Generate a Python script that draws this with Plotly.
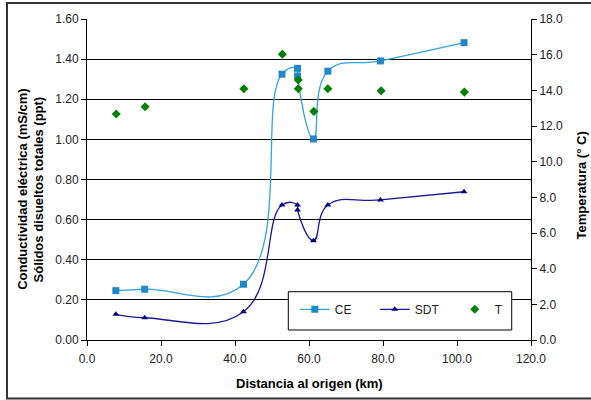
import plotly.graph_objects as go

dist = [7.8, 15.6, 42.3, 52.7, 56.9, 56.9, 61.2, 65.1, 79.3, 101.9]
ce = [0.246, 0.253, 0.278, 1.325, 1.354, 1.316, 1.002, 1.340, 1.391, 1.482]
sdt = [0.128, 0.111, 0.141, 0.673, 0.673, 0.648, 0.495, 0.673, 0.698, 0.739]
dist_t = [7.9, 15.7, 42.4, 52.8, 57.1, 57.1, 61.3, 65.1, 79.5, 102.0]
temp = [12.67, 13.08, 14.09, 16.02, 14.58, 14.09, 12.82, 14.09, 13.98, 13.90]

x_ticks = [0, 20, 40, 60, 80, 100, 120]

FONT = "Liberation Sans, Arial, sans-serif"

fig = go.Figure()
fig.add_trace(go.Scatter(
    x=dist, y=ce, name="CE", mode="lines+markers",
    line=dict(color="#33A3DC", width=1.3, shape="spline", smoothing=1.3),
    marker=dict(symbol="square", size=7, color="#1E88C8"),
))
fig.add_trace(go.Scatter(
    x=dist, y=sdt, name="SDT", mode="lines+markers",
    line=dict(color="#1A1A99", width=1.3, shape="spline", smoothing=1.3),
    marker=dict(symbol="triangle-up", size=6, color="#000080"),
))
fig.add_trace(go.Scatter(
    x=dist_t, y=temp, name="T", mode="markers", yaxis="y2",
    marker=dict(symbol="diamond", size=7, color="#008000"),
))

axis_common = dict(
    showline=True, linecolor="#000000", linewidth=1,
    ticks="outside", ticklen=5, tickcolor="#000000",
    tickfont=dict(family=FONT, size=12, color="#222222"),
    zeroline=False,
)

fig.update_layout(
    width=591, height=400,
    margin=dict(l=87, r=60, t=19, b=60),
    paper_bgcolor="white", plot_bgcolor="white",
    font=dict(family=FONT, size=12, color="#000000"),
    xaxis=dict(range=[0, 120], tickvals=x_ticks, tickformat=".1f",
               showgrid=False, ticklabelstandoff=3, **axis_common),
    yaxis=dict(range=[0, 1.6], dtick=0.2, tickformat=".2f",
               showgrid=True, gridcolor="#000000", gridwidth=1, **axis_common),
    yaxis2=dict(range=[0, 18], dtick=2, tickformat=".1f", overlaying="y",
                side="right", showgrid=False, **axis_common),
    legend=dict(orientation="h", x=0.468, y=0.0956, xanchor="left", yanchor="middle",
                bgcolor="rgba(0,0,0,0)", borderwidth=0,
                font=dict(family=FONT, size=12, color="#222222"),
                entrywidth=35, itemwidth=30),
    showlegend=True,
    annotations=[
        dict(text="<b>Distancia al origen (km)</b>", xref="paper", yref="paper",
             x=0.5, y=-0.135, xanchor="center", yanchor="middle", showarrow=False,
             font=dict(family=FONT, size=13)),
        dict(text="<b>Conductividad eléctrica (mS/cm)</b>", xref="paper", yref="paper",
             x=-0.147, y=0.47, textangle=-90, xanchor="center", yanchor="middle",
             showarrow=False, font=dict(family=FONT, size=13)),
        dict(text="<b>Sólidos disueltos totales (ppt)</b>", xref="paper", yref="paper",
             x=-0.1097, y=0.47, textangle=-90, xanchor="center", yanchor="middle",
             showarrow=False, font=dict(family=FONT, size=13)),
        dict(text="<b>Temperatura (° C)</b>", xref="paper", yref="paper",
             x=1.114, y=0.48, textangle=-90, xanchor="center", yanchor="middle",
             showarrow=False, font=dict(family=FONT, size=13)),
    ],
    shapes=[
        dict(type="rect", xref="paper", yref="paper",
             x0=-0.1802, x1=1.14, y0=-0.182, y1=1.0498,
             line=dict(color="#333333", width=2), layer="below"),
        dict(type="rect", xref="paper", yref="paper",
             x0=0.4534, x1=0.9566, y0=0.0312, y1=0.1505,
             line=dict(color="#000000", width=1), fillcolor="white", layer="above"),
    ],
)

fig.write_html("out.html", config={"displayModeBar": False},
               post_script="document.body.style.margin='0';")
